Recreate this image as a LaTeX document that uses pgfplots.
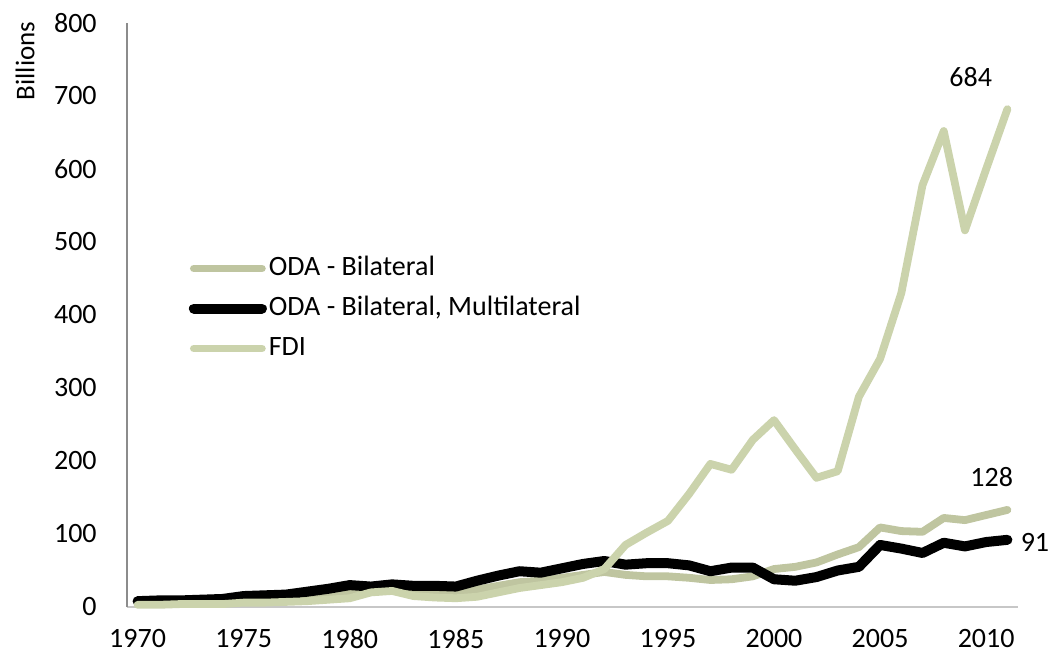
\documentclass[border=0pt]{standalone}
\usepackage{fontspec}
\setmainfont{Carlito}
\usepackage{pgfplots}
\pgfplotsset{compat=1.18}
\definecolor{odabil}{RGB}{191,197,160}
\definecolor{fdi}{RGB}{203,211,172}
\begin{document}
\fontsize{14}{16.8}\selectfont
\begin{tikzpicture}
\useasboundingbox (-63.5pt,-23pt) rectangle (463.5pt,303.5pt);
\begin{axis}[
  at={(0,0)}, anchor=south west,
  scale only axis, width=445.5pt, height=292pt,
  xmin=1969.5, xmax=2011.5, ymin=0, ymax=800,
  axis x line*=bottom, axis y line*=left,
  x axis line style={draw=black!22, line width=1pt},
  y axis line style={draw=black!45, line width=0.7pt},
  xtick={1970,1975,...,2010},
  xticklabels={1970,1975,1980,1985,1990,1995,2000,2005,2010},
  x tick style={draw=none},
  extra x ticks={1969.5,1974.5,...,2009.5},
  extra x tick labels={},
  extra x tick style={tick align=outside, major tick length=4.5pt, tick style={draw=black!25, line width=0.7pt}},
  ytick={0,100,...,800},
  y tick style={draw=none},
  /pgf/number format/assume math mode=true,
  every tick label/.append style={font=\fontsize{14}{16.8}\selectfont},
  xticklabel style={yshift=-6.3pt},
  yticklabel style={xshift=-10.3pt},
  ylabel={Billions},
  ylabel style={at={(axis description cs:-0.1145,0.935)}, anchor=center, font=\fontsize{13.5}{16}\selectfont},
  clip=false,
  legend style={at={(0.069,0.606)}, anchor=north west, draw=none, fill=none,
    font=\fontsize{14}{16.8}\selectfont, row sep=5pt, inner sep=0pt,
    nodes={inner sep=1pt, text height=10pt, text depth=3pt}},
  legend cell align=left,
  legend image code/.code={\draw[#1] (0pt,0pt) -- (34pt,0pt);},
]
\addplot[odabil, line width=3.9pt, line join=round, line cap=round] coordinates {
(1970,6) (1971,6) (1972,7) (1973,7) (1974,8) (1975,10) (1976,10) (1977,11) (1978,13) (1979,16)
(1980,19) (1981,24) (1982,27) (1983,24) (1984,21) (1985,20) (1986,24) (1987,29) (1988,34) (1989,36)
(1990,40) (1991,44) (1992,48) (1993,44) (1994,42) (1995,42) (1996,40) (1997,37) (1998,38) (1999,42)
(2000,52) (2001,55) (2002,61) (2003,72) (2004,82) (2005,109) (2006,104) (2007,103) (2008,122) (2009,119)
(2010,126) (2011,133)};
\addlegendentry{ODA - Bilateral}
\addplot[black, line width=5pt, line join=round, line cap=round] coordinates {
(1970,8) (1971,9) (1972,9) (1973,10) (1974,11) (1975,15) (1976,16) (1977,17) (1978,21) (1979,25)
(1980,30) (1981,28) (1982,31) (1983,29) (1984,29) (1985,28) (1986,36) (1987,43) (1988,49) (1989,47)
(1990,53) (1991,59) (1992,63) (1993,58) (1994,60) (1995,60) (1996,57) (1997,49) (1998,54) (1999,54)
(2000,38) (2001,36) (2002,41) (2003,50) (2004,55) (2005,85) (2006,80) (2007,74) (2008,88) (2009,83)
(2010,89) (2011,92)};
\addlegendentry{ODA - Bilateral, Multilateral}
\addplot[fdi, line width=3.9pt, line join=round, line cap=round] coordinates {
(1970,3) (1971,3) (1972,4) (1973,4) (1974,4) (1975,6) (1976,6) (1977,7) (1978,8) (1979,10)
(1980,12) (1981,20) (1982,22) (1983,15) (1984,13) (1985,12) (1986,14) (1987,20) (1988,26) (1989,30)
(1990,34) (1991,40) (1992,52) (1993,85) (1994,102) (1995,118) (1996,155) (1997,196) (1998,188) (1999,229)
(2000,256) (2001,216) (2002,177) (2003,186) (2004,288) (2005,340) (2006,430) (2007,578) (2008,652) (2009,516)
(2010,600) (2011,682)};
\addlegendentry{FDI}
\node[font=\fontsize{14}{16.8}\selectfont] at (axis cs:2009.27,726) {684};
\node[font=\fontsize{14}{16.8}\selectfont] at (axis cs:2010.26,178) {128};
\node[font=\fontsize{14}{16.8}\selectfont] at (axis cs:2012.3,89) {91};
\end{axis}
\end{tikzpicture}
\end{document}
